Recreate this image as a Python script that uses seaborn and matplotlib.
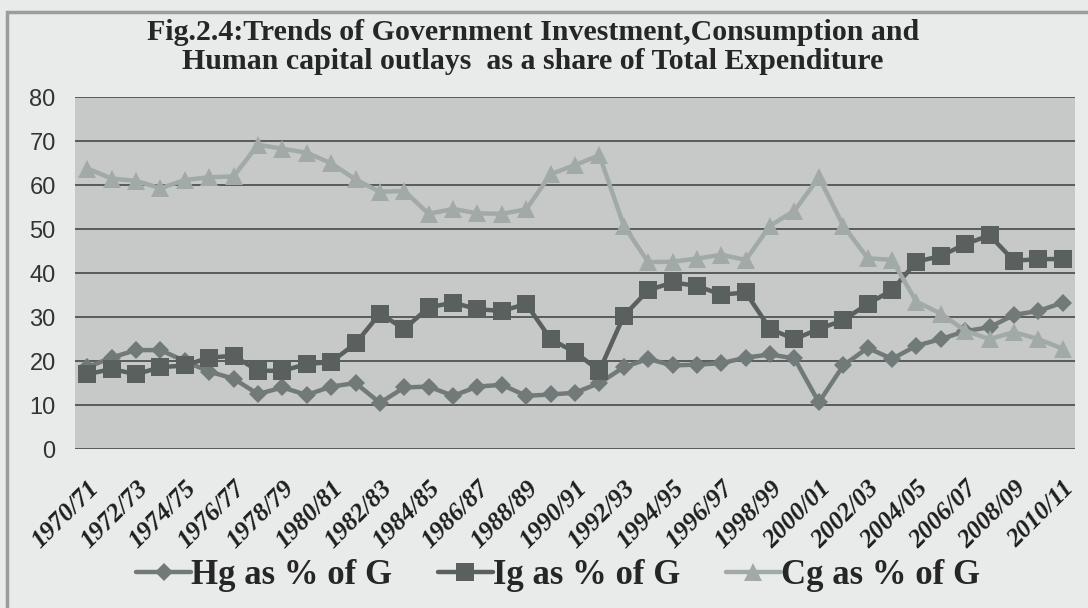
import numpy as np
import pandas as pd
import matplotlib
matplotlib.use("Agg")
import matplotlib.pyplot as plt
from matplotlib.patches import Rectangle
import seaborn as sns

# --- data ---
years = [f"{y}/{str(y + 1)[-2:]}" for y in range(1970, 2011)]

hg = [18.6, 20.8, 22.5, 22.5, 20.0, 17.6, 16.0, 12.5, 14.0, 12.3, 14.2, 15.0, 10.5, 14.0,
      14.2, 12.1, 14.2, 14.6, 12.1, 12.4, 12.8, 15.0, 18.6, 20.5, 19.0, 19.2, 19.5, 20.8,
      21.5, 20.6, 10.6, 19.0, 23.0, 20.5, 23.5, 25.0, 26.8, 27.7, 30.5, 31.4, 33.3]
ig = [17.0, 18.2, 17.0, 18.6, 19.0, 20.8, 21.2, 17.8, 17.8, 19.3, 19.8, 24.0, 30.8, 27.3,
      32.2, 33.3, 31.8, 31.4, 33.0, 25.0, 22.0, 17.8, 30.3, 36.1, 37.9, 37.1, 35.1, 35.6,
      27.3, 25.0, 27.3, 29.3, 33.0, 36.1, 42.6, 43.9, 46.6, 48.6, 42.8, 43.2, 43.2]
cg = [63.8, 61.5, 61.0, 59.3, 61.2, 61.8, 62.0, 69.2, 68.3, 67.4, 65.0, 61.3, 58.5, 58.7,
      53.5, 54.6, 53.6, 53.5, 54.5, 62.5, 64.6, 66.8, 50.8, 42.5, 42.6, 43.3, 44.2, 43.0,
      50.8, 54.2, 61.8, 50.8, 43.4, 43.0, 33.5, 30.8, 26.9, 25.0, 26.6, 25.0, 22.8]

series_names = ["Hg as % of G", "Ig as % of G", "Cg as % of G"]
series_values = [hg, ig, cg]
y_ticks = [0, 10, 20, 30, 40, 50, 60, 70, 80]

sns.set_theme(style="white")

fig = plt.figure(figsize=(10.88, 6.08), dpi=100, facecolor="#e9ebea")
ax = fig.add_axes([0.069, 0.2615, 0.919, 0.5785])
ax.set_facecolor("#c6c9c8")

df = pd.DataFrame({"period": np.arange(len(years))})
for name, vals in zip(series_names, series_values):
    df[name] = vals

styles = {
    "Hg as % of G": dict(color="#717a78", marker="D", markersize=9),
    "Ig as % of G": dict(color="#5a605e", marker="s", markersize=13),
    "Cg as % of G": dict(color="#a2aaa8", marker="^", markersize=13),
}
for name in series_names:
    st = styles[name]
    sns.lineplot(data=df, x="period", y=name, ax=ax, color=st["color"], linewidth=3.2,
                 marker=st["marker"], markersize=st["markersize"], markeredgewidth=0,
                 label=name)

ax.set_xlim(-0.5, len(years) - 0.5)
ax.set_ylim(0, 80)
ax.set_yticks(y_ticks)
ax.set_yticklabels([str(v) for v in y_ticks], fontsize=17, color="#333333",
                   family="Liberation Sans")
ax.yaxis.grid(True, color="#4f5352", linewidth=1.3)
ax.xaxis.grid(False)
ax.set_axisbelow(True)
for sp in ax.spines.values():
    sp.set_visible(False)
ax.tick_params(axis="both", length=0)
ax.tick_params(axis="y", pad=14)

xt = np.arange(0, len(years), 2)
ax.set_xticks(xt)
ax.set_xticklabels([years[i] for i in xt], rotation=45, ha="right", va="top",
                   rotation_mode="anchor", fontsize=18.5, fontweight="bold",
                   fontstyle="italic", family="Liberation Serif", color="#1e1e1e")
ax.tick_params(axis="x", pad=20)
ax.set_xlabel("")
ax.set_ylabel("")

leg = ax.legend(loc="center", bbox_to_anchor=(0.483, -0.36), ncol=3, frameon=False,
                prop=dict(family="Liberation Serif", weight="bold", size=25),
                handlelength=1.6, handletextpad=0.0, columnspacing=1.3)
for t in leg.get_texts():
    t.set_color("#262626")

fig.text(0.49, 1 - 47 / 608,
         "Fig.2.4:Trends of Government Investment,Consumption and\n"
         "Human capital outlays  as a share of Total Expenditure",
         ha="center", va="center", multialignment="center", fontsize=21.5,
         fontweight="bold", family="Liberation Serif", color="#262626", linespacing=1.05)

# outer chart frame
fig.patches.append(Rectangle((0.006, -0.01), 1.0, 0.99, transform=fig.transFigure,
                             fill=False, edgecolor="#9a9d9c", linewidth=2.5))

fig.savefig("out.png", dpi=100, facecolor=fig.get_facecolor())
